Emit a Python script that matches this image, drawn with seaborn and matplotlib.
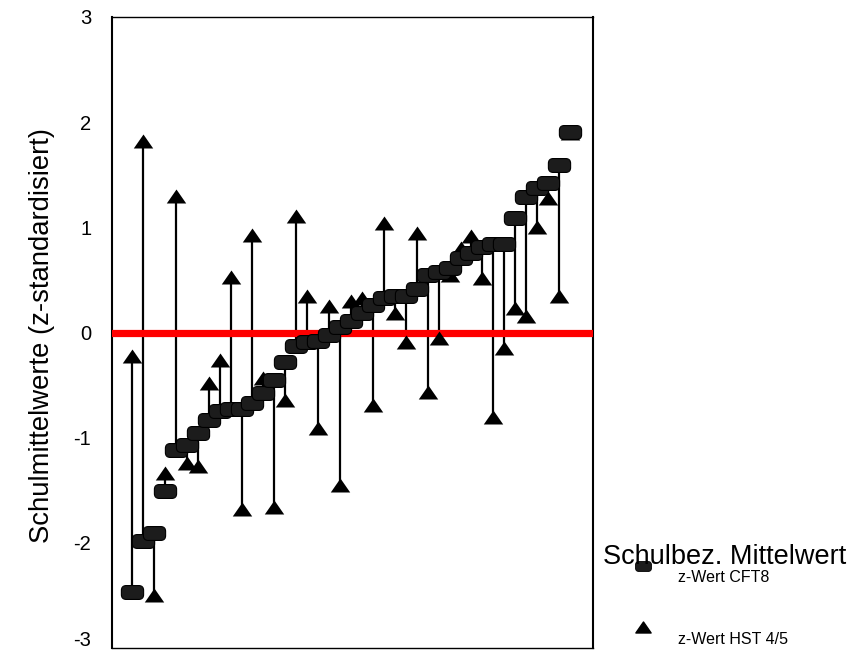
import numpy as np
import pandas as pd
import matplotlib
matplotlib.use("Agg")
import matplotlib.pyplot as plt
import matplotlib.transforms as mtransforms
import seaborn as sns
from matplotlib.patches import FancyBboxPatch
from matplotlib.path import Path
from matplotlib.lines import Line2D

# School index (sorted by CFT8 value)
schools = list(range(1, 42))
cft8 = [-2.47, -1.98, -1.905, -1.51, -1.12, -1.07, -0.955, -0.83, -0.75, -0.73,
        -0.73, -0.67, -0.575, -0.45, -0.28, -0.13, -0.09, -0.08, -0.02, 0.05,
        0.11, 0.19, 0.26, 0.33, 0.345, 0.345, 0.415, 0.55, 0.58, 0.615,
        0.71, 0.76, 0.81, 0.84, 0.84, 1.09, 1.29, 1.37, 1.425, 1.59, 1.91]
hst45 = [-0.22, 1.82, -2.50, -1.34, 1.30, -1.24, -1.27, -0.48, -0.26, 0.53,
         -1.68, 0.93, -0.43, -1.66, -0.64, 1.11, 0.35, -0.91, 0.25, -1.45,
         0.30, 0.33, -0.69, 1.04, 0.19, -0.09, 0.95, -0.57, -0.05, 0.55,
         0.80, 0.92, 0.52, -0.80, -0.15, 0.235, 0.155, 1.00, 1.28, 0.345, 1.90]
yticks = [-3, -2, -1, 0, 1, 2, 3]

df = pd.DataFrame({"school": schools, "cft8": cft8, "hst45": hst45})

sns.set_theme(style="white")
plt.rcParams['font.family'] = ['Liberation Sans', 'DejaVu Sans']
plt.rcParams['text.color'] = 'black'
plt.rcParams['axes.labelcolor'] = 'black'

fig = plt.figure(figsize=(8.51, 6.51), dpi=100)
ax = fig.add_axes([112/851, 1-648/651, (593-112)/851, (648-17)/651])

# rounded rectangle marker for CFT8
bb = FancyBboxPatch((-0.8, -0.5), 1.6, 1.0, boxstyle="round,pad=0,rounding_size=0.35")
rr_path = bb.get_path()
# wide triangle marker for HST
tri_path = Path([(-1.0, -0.72), (1.0, -0.72), (0.0, 0.72), (-1.0, -0.72)],
                [Path.MOVETO, Path.LINETO, Path.LINETO, Path.CLOSEPOLY])

ax.vlines(df["school"], df["cft8"], df["hst45"], color="black", lw=1.6, zorder=2)
ax.axhline(0, color="#ff0000", lw=5.2, zorder=3)
sns.scatterplot(data=df, x="school", y="hst45", marker=tri_path, s=14**2,
                color="black", edgecolor="black", linewidth=0, ax=ax, zorder=4, legend=False)
sns.scatterplot(data=df, x="school", y="cft8", marker=rr_path, s=16**2,
                color="#1c1c1c", edgecolor="black", linewidth=0.8, ax=ax, zorder=5, legend=False)

ax.set_xlim(-0.83, 43.1)
ax.set_ylim(-3, 3)
ax.set_yticks(yticks)
ax.set_yticklabels([str(t) for t in yticks], fontsize=14.5)
ax.set_xticks([])
ax.set_xlabel("")
ax.set_ylabel("Schulmittelwerte (z-standardisiert)", fontsize=19.8, color="black")
ax.yaxis.set_label_coords((55-112)/481, 0.496)
ax.tick_params(axis="y", direction="out", length=5, width=1.5, color="black", pad=10, labelcolor="black")
# lift the bottom tick label slightly so it stays inside the figure
lab = ax.get_yticklabels()[0]
lab.set_transform(lab.get_transform() + mtransforms.ScaledTranslation(0, 9/100, fig.dpi_scale_trans))
for side, sp in ax.spines.items():
    sp.set_visible(True)
    sp.set_color("black")
    sp.set_linewidth(1.5 if side in ("left", "right") else 1.0)

# legend (manual)
fig.text(603/851, 1-557/651, "Schulbez. Mittelwert", fontsize=19.5, ha="left", va="center", color="black")
fig.add_artist(Line2D([643/851], [1-566/651], marker=rr_path, markersize=11.5, color="#1c1c1c",
                      markeredgecolor="black", markeredgewidth=0.6, linestyle="none",
                      transform=fig.transFigure))
fig.text(678/851, 1-578/651, "z-Wert CFT8", fontsize=11.5, ha="left", va="center", color="black")
fig.add_artist(Line2D([643/851], [1-627/651], marker=tri_path, markersize=11, color="black",
                      linestyle="none", transform=fig.transFigure))
fig.text(678/851, 1-639/651, "z-Wert HST 4/5", fontsize=11.5, ha="left", va="center", color="black")

fig.savefig("out.png", dpi=100)
